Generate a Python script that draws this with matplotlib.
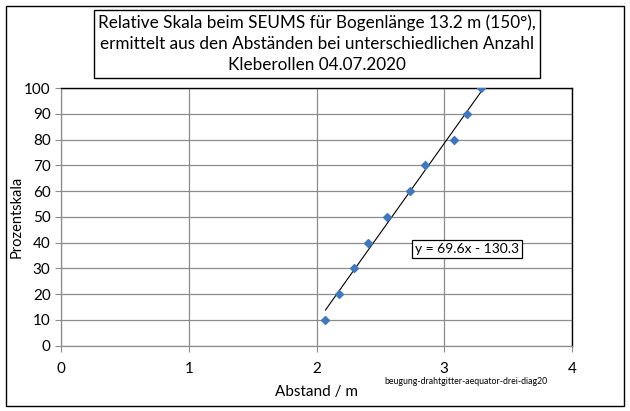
import numpy as np
import matplotlib
matplotlib.use("Agg")
import matplotlib.pyplot as plt
from matplotlib.patches import Rectangle

# data
abstand = [2.07, 2.18, 2.29, 2.40, 2.55, 2.73, 2.85, 3.08, 3.18, 3.29]
prozent = [10, 20, 30, 40, 50, 60, 70, 80, 90, 100]
slope = 69.6
intercept = -130.3
x_ticks = [0, 1, 2, 3, 4]
y_ticks = [0, 10, 20, 30, 40, 50, 60, 70, 80, 90, 100]

title = ("Relative Skala beim SEUMS für Bogenlänge 13.2 m (150°),\n"
         "ermittelt aus den Abständen bei unterschiedlichen Anzahl\n"
         "Kleberollen 04.07.2020")

plt.rcParams['font.family'] = ['Lato', 'DejaVu Sans']

fig = plt.figure(figsize=(6.3, 4.11), dpi=100)
W, H = 630, 411

# outer frame
fig.patches.append(Rectangle((6 / W, 1 - 406 / H), 618 / W, 400 / H,
                             transform=fig.transFigure, fill=False,
                             edgecolor='black', linewidth=1.0))

ax = fig.add_axes([61 / W, 1 - 345.5 / H, 511 / W, 257.5 / H])
ax.set_xlim(0, 4)
ax.set_ylim(0, 100)
ax.set_xticks(x_ticks)
ax.set_yticks(y_ticks)
ax.grid(True, color='#8c8c8c', linewidth=0.9)
ax.set_axisbelow(True)
for s in ['top', 'right']:
    ax.spines[s].set_color('black')
    ax.spines[s].set_linewidth(1.0)
for s in ['left', 'bottom']:
    ax.spines[s].set_color('#8c8c8c')
    ax.spines[s].set_linewidth(0.9)
ax.tick_params(axis='both', direction='out', length=4, color='#8c8c8c',
               labelsize=11, labelcolor='black')
ax.tick_params(axis='x', pad=8)

# trend line across data range
xs = np.array([min(abstand), max(abstand)])
ax.plot(xs, slope * xs + intercept, color='black', linewidth=0.8)
ax.scatter(abstand, prozent, marker='D', s=16, color='#3f78bf', zorder=3)

ax.text(3.18, 37.5, "y = 69.6x - 130.3", fontsize=10, ha='center', va='center',
        bbox=dict(boxstyle='square,pad=0.2', facecolor='white', edgecolor='black', linewidth=0.9))

ax.set_xlabel("Abstand / m", fontsize=11, labelpad=6)
ax.set_ylabel("Prozentskala", fontsize=10.5)
ax.yaxis.set_label_coords(-0.074, 0.5)

fig.text(317 / W, 1 - 44 / H, title, fontsize=12.3, ha='center', va='center',
         linespacing=1.4,
         bbox=dict(boxstyle='square,pad=0.25', facecolor='white', edgecolor='black', linewidth=1.0))

fig.text(466 / W, 1 - 381 / H, "beugung-drahtgitter-aequator-drei-diag20",
         fontsize=6.3, ha='center', va='center')

fig.savefig("out.png", dpi=100)
